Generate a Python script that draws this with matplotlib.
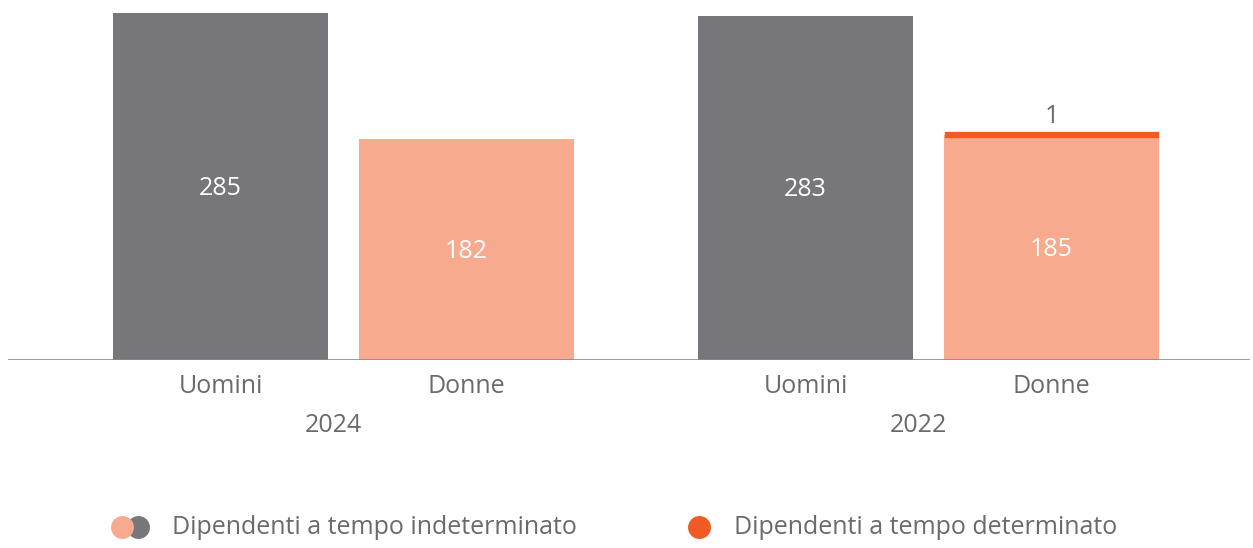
import matplotlib.pyplot as plt
import numpy as np

# dati
anni = ["2024", "2022"]
generi = ["Uomini", "Donne"]
indeterminato = [285, 182, 283, 185]
determinato = [0, 0, 0, 1]
colori_ind = ["#77777b", "#f8aa8f", "#77777b", "#f8aa8f"]
col_det = "#f15a22"
col_testo = "#6a6a6a"

plt.rcParams['font.family'] = ['Open Sans', 'DejaVu Sans']
fs = 18

fig = plt.figure(figsize=(12.53, 5.48), dpi=100)
ax = fig.add_axes([8/1253, 188/548, 1242/1253, 360/548])

x = np.array([0, 1, 2.378, 3.378])
larg = 0.874

ax.bar(x, indeterminato, width=larg, color=colori_ind, zorder=2)
# segmento tempo determinato (bordo spesso per renderlo visibile)
ax.bar(x[3], determinato[3], bottom=indeterminato[3], width=larg - 0.022, color=col_det,
       edgecolor=col_det, linewidth=3.8, zorder=3)

for xi, v in zip(x, indeterminato):
    ax.text(xi, v / 2 - 1.5, str(v), ha="center", va="center", color="white", fontsize=fs)
ax.text(x[3], indeterminato[3] + determinato[3] + 14, str(determinato[3]),
        ha="center", va="center", color=col_testo, fontsize=fs)

ax.set_xlim(-0.864, 4.185)
ax.set_ylim(0, 296)
ax.axhline(0, color="#8a8a8a", lw=1.2, zorder=4)
for s in ax.spines.values():
    s.set_visible(False)
ax.set_yticks([])
ax.set_xticks(x)
ax.set_xticklabels(generi * 2, color=col_testo, fontsize=fs)
ax.tick_params(axis="x", length=0, pad=10)

# etichette anni
for i, anno in enumerate(anni):
    xc = (x[2*i] + x[2*i+1]) / 2 - 0.04
    ax.text(xc, -53.5, anno, ha="center", va="center", color=col_testo, fontsize=fs)

# legenda
lg = fig.add_axes([0, 0, 1, 1])
lg.set_xlim(0, 1253)
lg.set_ylim(548, 0)
lg.axis("off")
lg.patch.set_alpha(0)
lg.scatter([138], [527], s=240, color="#77777b", zorder=1)
lg.scatter([122], [527], s=240, color="#f8aa8f", zorder=2)
lg.scatter([699], [527], s=240, color=col_det)
lg.text(172, 527, "Dipendenti a tempo indeterminato", va="center", ha="left",
        color=col_testo, fontsize=fs)
lg.text(734, 527, "Dipendenti a tempo determinato", va="center", ha="left",
        color=col_testo, fontsize=fs)

fig.savefig("out.png", dpi=100)
